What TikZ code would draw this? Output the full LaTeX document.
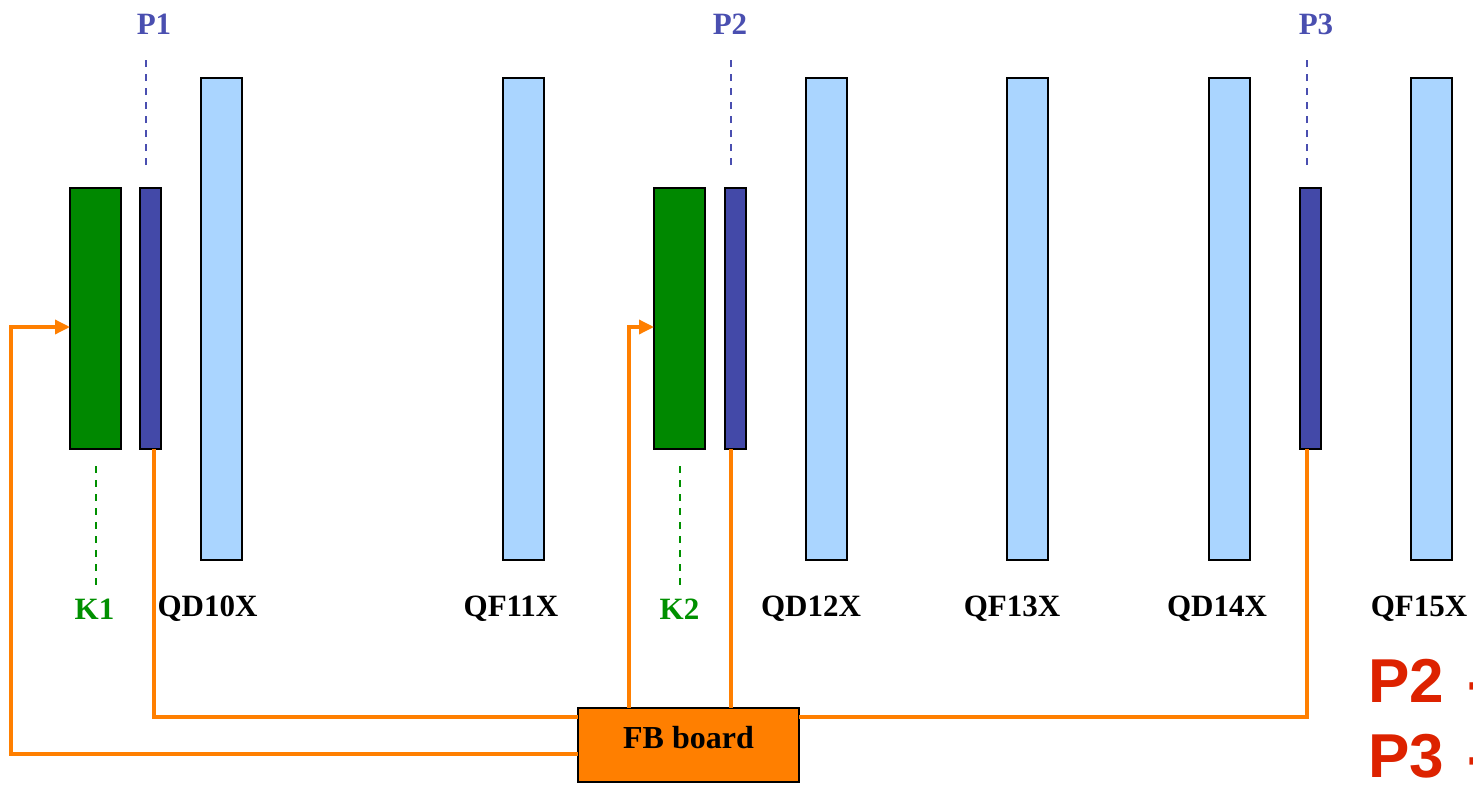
\documentclass[tikz,border=0pt]{standalone}
\usepackage{fontspec}
\setmainfont{Liberation Serif}
\newfontfamily\arialb{Liberation Sans}
\usetikzlibrary{arrows.meta}
\definecolor{kgreen}{HTML}{008800}
\definecolor{pblue}{HTML}{4349A8}
\definecolor{qblue}{HTML}{AAD5FF}
\definecolor{fborange}{HTML}{FF7F00}
\definecolor{plabel}{HTML}{4A4FB0}
\definecolor{klabel}{HTML}{009000}
\definecolor{redtxt}{HTML}{DD2200}
\begin{document}
\begin{tikzpicture}[x=1pt,y=-1pt,
  box/.style={draw=black,line width=2pt,inner sep=0pt,outer sep=0pt,minimum width=#1},
  kbox/.style={box=51pt,fill=kgreen,minimum height=261pt},
  pbox/.style={box=21pt,fill=pblue,minimum height=261pt},
  qbox/.style={box=41pt,fill=qblue,minimum height=482pt},
  lbl/.style={font=\fontsize{31}{36}\selectfont\bfseries,inner sep=0pt},
  plbl/.style={lbl,text=plabel},
  klbl/.style={lbl,text=klabel},
  pdash/.style={draw=plabel,line width=2pt,dash pattern=on 7pt off 7pt},
  kdash/.style={draw=klabel,line width=2pt,dash pattern=on 7pt off 7pt},
  fb/.style={draw=fborange,line width=3.4pt},
  fbarrow/.style={fb,-{Triangle[length=15pt,width=14pt]}},
  redl/.style={font=\arialb\fontsize{62}{70}\selectfont\bfseries,text=redtxt,inner sep=0pt,anchor=base west}
]
\useasboundingbox (0,0) rectangle (1473,787);
% magnets
\node[kbox] (K1b) at (95.5,318.5) {};
\node[pbox] (P1b) at (150.5,318.5) {};
\node[qbox] (QD10) at (221.5,319) {};
\node[qbox] (QF11) at (523.5,319) {};
\node[kbox] (K2b) at (679.5,318.5) {};
\node[pbox] (P2b) at (735,318.5) {};
\node[qbox] (QD12) at (826.5,319) {};
\node[qbox] (QF13) at (1027.5,319) {};
\node[qbox] (QD14) at (1229.5,319) {};
\node[pbox] (P3b) at (1310,318.5) {};
\node[qbox] (QF15) at (1431.5,319) {};
% FB board
\node[draw=black,line width=2pt,fill=fborange,minimum width=221pt,minimum height=74pt,inner sep=0pt,outer sep=0pt] (fbb) at (688.5,745) {};
\node[font=\fontsize{32}{38}\selectfont\bfseries,inner sep=0pt] (fbt) at (688.5,738) {FB board};
% top labels
\node[plbl] (P1l) at (154,24) {P1};
\node[plbl] (P2l) at (730,24) {P2};
\node[plbl] (P3l) at (1316,24) {P3};
\draw[pdash] ([xshift=-4.5,yshift=23]P1b.north) -- ++(0,-105);
\draw[pdash] ([xshift=-4,yshift=23]P2b.north) -- ++(0,-105);
\draw[pdash] ([xshift=-3,yshift=23]P3b.north) -- ++(0,-105);
% bottom labels
\node[klbl] (K1l) at (94.5,609) {K1};
\node[klbl] (K2l) at (679.5,609) {K2};
\draw[kdash] ([yshift=-17]K1b.south) -- ++(0,122);
\draw[kdash] ([yshift=-17]K2b.south) -- ++(0,122);
\node[lbl] (QD10l) at (207.5,609) {QD10X};
\node[lbl] (QF11l) at (511,609) {QF11X};
\node[lbl] (QD12l) at (811,609) {QD12X};
\node[lbl] (QF13l) at (1012,609) {QF13X};
\node[lbl] (QD14l) at (1217,609) {QD14X};
\node[lbl] (QF15l) at (1419,609) {QF15X};
% feedback wiring
\draw[fb] ([xshift=3.5]P1b.south) |- ([yshift=28]fbb.west);
\draw[fbarrow] ([yshift=-9]fbb.west) -- ++(-567,0) |- ([yshift=-8.5]K1b.west);
\draw[fbarrow] ([xshift=-59.5]fbb.north) |- ([yshift=-8.5]K2b.west);
\draw[fb] ([xshift=-4]P2b.south) -- ([xshift=42.5]fbb.north);
\draw[fb] ([yshift=28]fbb.east) -| ([xshift=-3]P3b.south);
% red text (cut by the page edge, as in the reference)
\node[redl] (r2) at (1368,702) {P2 \kern6pt-};
\node[redl] (r3) at (1368,777) {P3 \kern6pt-};
\end{tikzpicture}
\end{document}
